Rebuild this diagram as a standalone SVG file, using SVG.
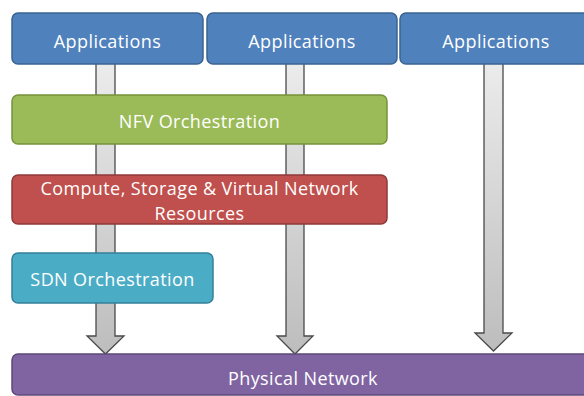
<svg xmlns="http://www.w3.org/2000/svg" width="584" height="396" viewBox="0 0 584 396">
<defs>
<linearGradient id="av" x1="0" y1="0" x2="0" y2="1">
<stop offset="0" stop-color="#ececec"/>
<stop offset="1" stop-color="#bdbdbd"/>
</linearGradient>
</defs>
<style>
.t{font-family:"Open Sans","Liberation Sans",sans-serif;font-size:18px;letter-spacing:0.4px;fill:#ffffff;text-anchor:middle}
.arr{fill:url(#av);stroke:#4a4a4a;stroke-width:1.3}
.app{fill:#4f81bd;stroke:#3a6391;stroke-width:1.5}
</style>
<rect width="584" height="396" fill="#ffffff"/>
<g id="connectors">
<path class="arr" d="M96,60 L115,60 L115,336 L124,336 L105.5,354 L87,336 L96,336 Z"/>
<path class="arr" d="M286,60 L304,60 L304,336 L313,336 L295,354 L277,336 L286,336 Z"/>
<path class="arr" d="M484,60 L503,60 L503,333 L512,333 L493.5,351 L475,333 L484,333 Z"/>
</g>
<g id="app1"><rect class="app" x="12" y="13" width="191" height="51" rx="6"/><text class="t" x="107.5" y="48">Applications</text></g>
<g id="app2"><rect class="app" x="207" y="13" width="190" height="51" rx="6"/><text class="t" x="302" y="48">Applications</text></g>
<g id="app3"><rect class="app" x="400" y="13" width="194" height="51" rx="6"/><text class="t" x="496" y="48">Applications</text></g>
<g id="nfv"><rect x="12" y="95" width="375" height="49" rx="6" fill="#9bbb59" stroke="#77933c" stroke-width="1.5"/><text class="t" x="199.5" y="128">NFV Orchestration</text></g>
<g id="compute"><rect x="12" y="175" width="375" height="49" rx="6" fill="#c0504d" stroke="#8d3a38" stroke-width="1.5"/><text class="t" x="199.5" y="195">Compute, Storage &amp; Virtual Network</text><text class="t" x="199.5" y="220">Resources</text></g>
<g id="sdn"><rect x="12" y="253" width="201" height="50" rx="6" fill="#4bacc6" stroke="#34809a" stroke-width="1.5"/><text class="t" x="112.5" y="286">SDN Orchestration</text></g>
<g id="physical"><rect x="12" y="354" width="584" height="41" rx="6" fill="#8064a2" stroke="#5d4878" stroke-width="1.5"/><text class="t" x="303" y="385">Physical Network</text></g>
</svg>
